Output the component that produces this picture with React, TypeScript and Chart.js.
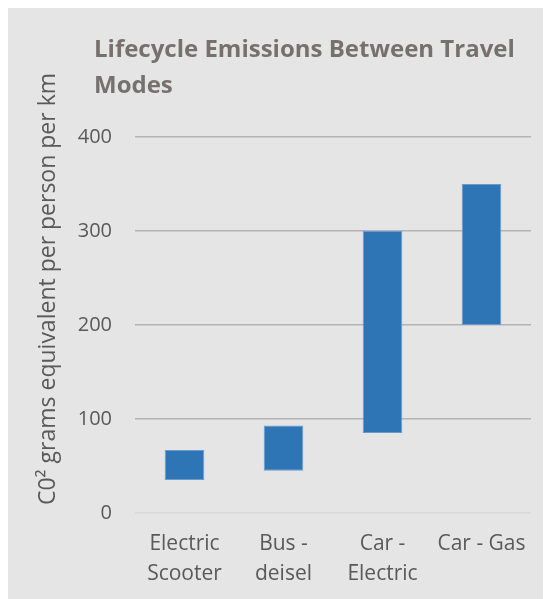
import React, { useEffect, useRef } from "react";
import { Chart, registerables } from "chart.js";

Chart.register(...registerables);

// Travel modes and their lifecycle emission range (low, high), g CO2e per person-km
const categories: string[][] = [
  ["Electric", "Scooter"],
  ["Bus -", "deisel"],
  ["Car -", "Electric"],
  ["Car - Gas"],
];
const lowValues: number[] = [35, 45, 85, 200];
const highValues: number[] = [67, 93, 300, 350];
const yTicks: number[] = [0, 100, 200, 300, 400];

const titleLines: string[] = ["Lifecycle Emissions Between Travel", "Modes"];
const yAxisTitle = "C0\u00B2 grams equivalent per person per km";

const FONT = "'Open Sans', 'DejaVu Sans', sans-serif";

// Draws the chart heading and the rotated value-axis caption
const captionPlugin = {
  id: "captions",
  afterDraw(chart: Chart) {
    const { ctx, chartArea } = chart;
    ctx.save();
    ctx.fillStyle = "#767171";
    ctx.font = `bold 24px ${FONT}`;
    ctx.textAlign = "left";
    ctx.textBaseline = "alphabetic";
    const tx = chartArea.left - 41;
    titleLines.forEach((line, i) => {
      ctx.fillText(line, tx, chartArea.top - 80 + i * 36);
    });

    ctx.translate(chartArea.left - 87, chartArea.top + 152);
    ctx.rotate(-Math.PI / 2);
    ctx.fillStyle = "#595959";
    ctx.font = `23px ${FONT}`;
    ctx.textAlign = "center";
    ctx.textBaseline = "middle";
    ctx.fillText(yAxisTitle, 0, 0);
    ctx.restore();
  },
};

export default function App() {
  const canvasRef = useRef<HTMLCanvasElement | null>(null);

  useEffect(() => {
    if (!canvasRef.current) return;
    const chart = new Chart(canvasRef.current, {
      type: "bar",
      data: {
        labels: categories,
        datasets: [
          {
            label: "Emissions",
            data: lowValues.map((lo, i) => [lo, highValues[i]]),
            backgroundColor: "#2e75b6",
            borderColor: "#6a99cc",
            borderWidth: 1,
            borderSkipped: false,
            barPercentage: 0.4,
            categoryPercentage: 1,
          },
        ],
      },
      options: {
        animation: false,
        responsive: false,
        maintainAspectRatio: false,
        layout: { padding: { top: 129, right: 20, left: 0, bottom: 0 } },
        plugins: {
          legend: { display: false },
          title: { display: false },
          tooltip: { enabled: false },
        },
        scales: {
          x: {
            grid: { display: false, drawTicks: false },
            border: { display: false },
            ticks: {
              color: "#595959",
              font: { family: FONT, size: 21, lineHeight: 1.43 },
              padding: 16,
              maxRotation: 0,
              autoSkip: false,
            },
            afterFit(scale: any) {
              scale.height = 86;
            },
          },
          y: {
            min: 0,
            max: 400,
            afterBuildTicks(scale: any) {
              scale.ticks = yTicks.map((v) => ({ value: v }));
            },
            grid: {
              drawTicks: false,
              lineWidth: 1.5,
              color: (c: any) => (c.tick && c.tick.value === 0 ? "#d9d9d9" : "#b4b4b4"),
            },
            border: { display: false },
            ticks: {
              color: "#595959",
              font: { family: FONT, size: 20 },
              padding: 23,
            },
            afterFit(scale: any) {
              scale.width = 127;
            },
          },
        },
      },
      plugins: [captionPlugin],
    });
    return () => chart.destroy();
  }, []);

  return (
    <div style={{ width: 543, height: 591, background: "#e5e5e5" }}>
      <canvas ref={canvasRef} width={543} height={591} style={{ display: "block" }} />
    </div>
  );
}
